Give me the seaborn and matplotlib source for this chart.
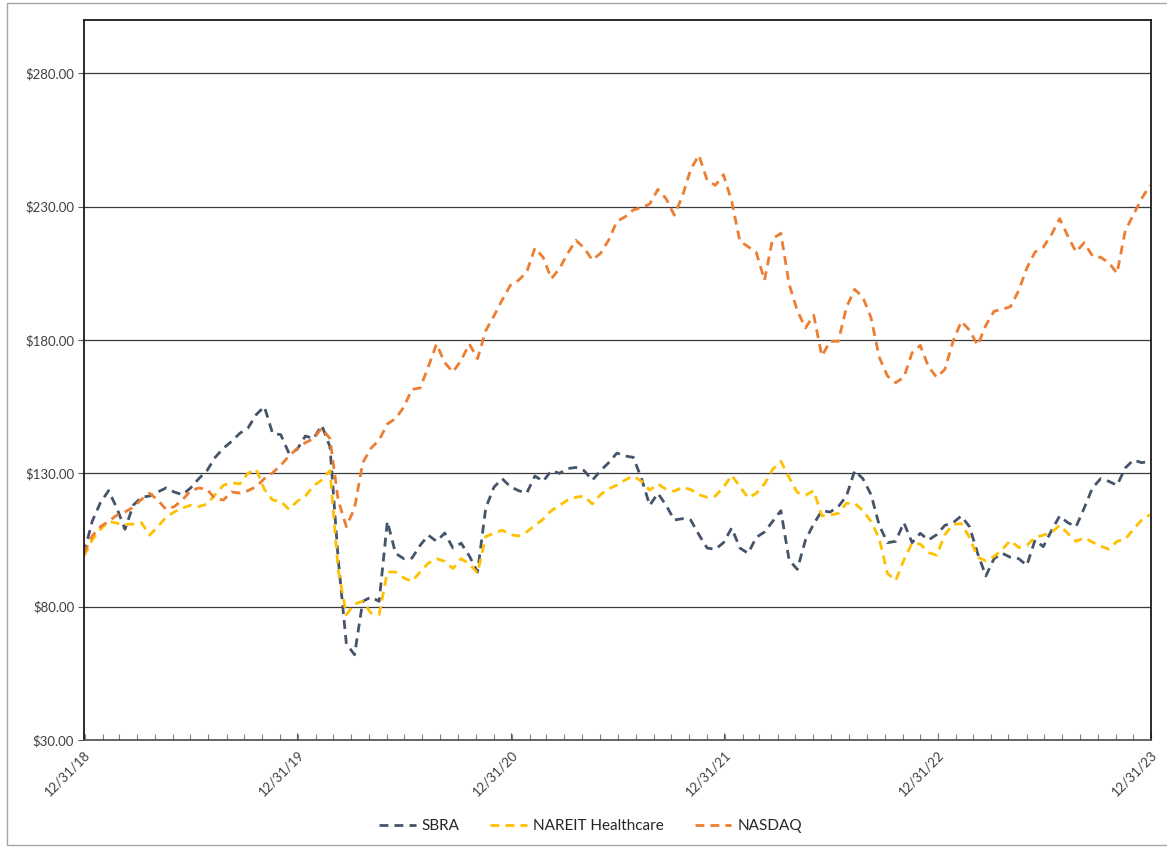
import numpy as np
import pandas as pd
import matplotlib
matplotlib.use("Agg")
import matplotlib.pyplot as plt
import matplotlib.dates as mdates
from matplotlib.ticker import FuncFormatter
from matplotlib.patches import Rectangle
import seaborn as sns

# Bi-weekly value of $100 invested on 12/31/18
sbra = [100, 112, 119, 123.5, 117, 109, 118, 121, 121.5, 123, 124.5, 123, 122, 124.5, 128, 131,
        136, 139.4, 142, 145, 147, 152, 155, 145, 144.5, 137.5, 139, 144, 143, 148, 140, 98,
        66, 62, 82, 83.6, 82, 112, 100, 98, 98.2, 103, 106.8, 104.5, 107.6, 102, 103.8, 99,
        93, 117, 124.8, 128, 125, 123.5, 122.6, 129, 127, 131, 130, 131.8, 132.2, 131, 127.4, 131,
        134, 137.6, 136.5, 136, 128, 118, 122.5, 118, 112.5, 113, 112.5, 107, 102, 101.5, 104, 109.5,
        102, 100, 106, 108, 112, 116, 97.5, 94, 105, 111, 116, 115.5, 117.5, 121.5, 131, 128,
        122, 110.5, 104, 104.5, 111.5, 104, 107.5, 105, 107, 110.5, 111.5, 114, 110, 100, 91.5, 98,
        100, 98.5, 98, 95.5, 105, 102.5, 108.5, 114, 111.5, 110, 117, 124.5, 128, 127, 125.5, 132,
        135, 134, 134.5]

nareit = [99, 105, 109, 112, 111.3, 110.8, 111, 111.5, 106.8, 110, 113.5, 115.5, 117, 118, 117.5, 118.5,
          122, 125.5, 126.5, 126, 130, 131.5, 124, 120, 119.5, 116.5, 119.5, 121.5, 125.3, 127.5, 131, 94,
          77, 81, 82, 77.6, 77, 93, 93, 90.8, 89.5, 93, 96.3, 98, 97, 94.3, 98, 96,
          92.6, 106.3, 107.5, 108.7, 107, 106.5, 108, 110.5, 112.8, 116, 118, 120, 121, 121.5, 118.5, 122,
          124.2, 125.6, 127.5, 129, 127, 123.7, 126, 124, 123.3, 124.8, 123.9, 122, 121, 121.5, 124.8, 129.3,
          125, 120.8, 122.5, 126, 131.5, 134.5, 128.5, 122.8, 121.8, 123.5, 114, 114.3, 115, 118.8, 118.8, 116,
          112, 105.5, 92.5, 89.8, 97.5, 103.8, 103.5, 100.3, 99.3, 107, 110.8, 111.2, 106, 98.5, 97.2, 98.8,
          101.5, 104.8, 102.2, 103, 106, 106.8, 107.8, 110.5, 107.5, 104.5, 105.8, 104.2, 102.7, 101.6, 104.5, 105.3,
          109, 112.5, 114.5]

nasdaq = [100, 106.5, 110, 112, 114.3, 115.5, 117.3, 120.2, 122.5, 120, 116.5, 117.5, 120, 123.5, 124.5, 124,
          120.5, 120, 123, 122.6, 123.5, 125, 128, 130.2, 133, 136.5, 139.3, 141.5, 143, 147, 143, 120,
          110, 117, 134, 139.4, 142.5, 148.5, 150.5, 154.8, 161.5, 162, 170, 178.5, 171.5, 168, 172.4, 178.5,
          173, 183.5, 189, 195, 200.5, 202.4, 205.5, 214.5, 211, 203, 206.8, 212.5, 217.4, 214.5, 210, 212.5,
          217.5, 224.5, 226.2, 228.8, 229.6, 231, 236.5, 233, 226.8, 234, 244, 249.3, 240, 238, 242, 232,
          217, 215, 212.8, 202.4, 218, 220, 201, 191, 184.5, 189.3, 174, 179.5, 179.5, 192.3, 199, 196,
          188.3, 173.5, 166.5, 164, 166, 175.2, 178, 170, 166, 169, 179.5, 187, 183.7, 178, 185.5, 190.8,
          191.5, 192.5, 198.5, 207, 213, 214.8, 219.5, 225.5, 219, 213, 216.5, 211.5, 211, 209, 205, 221,
          227, 233, 238]

series_names = ["SBRA", "NAREIT Healthcare", "NASDAQ"]
series_colors = ["#44546A", "#FFC000", "#ED7D31"]
y_ticks = [30, 80, 130, 180, 230, 280]

dates = pd.date_range("2018-12-31", "2023-12-29", periods=len(sbra))
x_tick_dates = pd.to_datetime(["2018-12-31", "2019-12-31", "2020-12-31",
                               "2021-12-31", "2022-12-31", "2023-12-31"])

df = pd.DataFrame({
    "date": np.tile(dates, 3),
    "value": np.concatenate([sbra, nareit, nasdaq]),
    "series": np.repeat(series_names, len(dates)),
})

sns.set_style("white")
plt.rcParams["font.family"] = ["Lato", "DejaVu Sans"]

fig = plt.figure(figsize=(11.67, 8.48), dpi=100)
ax = fig.add_axes([84 / 1167, 1 - 740 / 848, (1151 - 84) / 1167, (740 - 20) / 848])

sns.lineplot(data=df, x="date", y="value", hue="series", style="series",
             hue_order=series_names, style_order=series_names,
             palette=dict(zip(series_names, series_colors)),
             dashes={n: (3.2, 2.2) for n in series_names},
             linewidth=2.0, ax=ax, legend=False)

ax.set_ylim(30, 300)
ax.set_xlim(x_tick_dates[0], x_tick_dates[-1])
ax.set_yticks(y_ticks)
ax.yaxis.set_major_formatter(FuncFormatter(lambda v, p: f"${v:,.2f}"))
ax.set_xticks(x_tick_dates)
ax.set_xticklabels([d.strftime("%m/%d/%y") for d in x_tick_dates],
                   rotation=45, ha="right", va="top", rotation_mode="anchor")
ax.xaxis.set_minor_locator(mdates.MonthLocator(bymonthday=1))
ax.set_xlabel("")
ax.set_ylabel("")

for v in y_ticks[1:]:
    ax.axhline(v, color="#3a3a3a", linewidth=0.9, zorder=0)

for side in ["left", "right", "top"]:
    ax.spines[side].set_color("#1a1a1a")
    ax.spines[side].set_linewidth(1.3)
ax.spines["bottom"].set_color("#595959")
ax.spines["bottom"].set_linewidth(1.3)

ax.tick_params(axis="y", which="major", direction="out", length=4, width=0.8,
               color="#595959", labelsize=9.5, labelcolor="#404040", pad=3, left=True)
ax.tick_params(axis="x", which="major", direction="in", length=5, width=0.8,
               color="#595959", labelsize=9.5, labelcolor="#404040", pad=6, bottom=True)
ax.tick_params(axis="x", which="minor", direction="in", length=4, width=0.8,
               color="#7f7f7f", bottom=True)

handles = ax.get_lines()[:3]
fig.legend(handles, series_names, loc="center", bbox_to_anchor=(0.506, 0.026),
           ncol=3, frameon=False, fontsize=11, handlelength=2.4, columnspacing=2.0,
           handletextpad=0.4, labelcolor="#262626")

fig.patches.append(Rectangle((7 / 1167, 3 / 848), 1.2, 1 - 6 / 848,
                             transform=fig.transFigure, fill=False,
                             edgecolor="#a6a6a6", linewidth=1.0))

fig.savefig("out.png", dpi=100)
